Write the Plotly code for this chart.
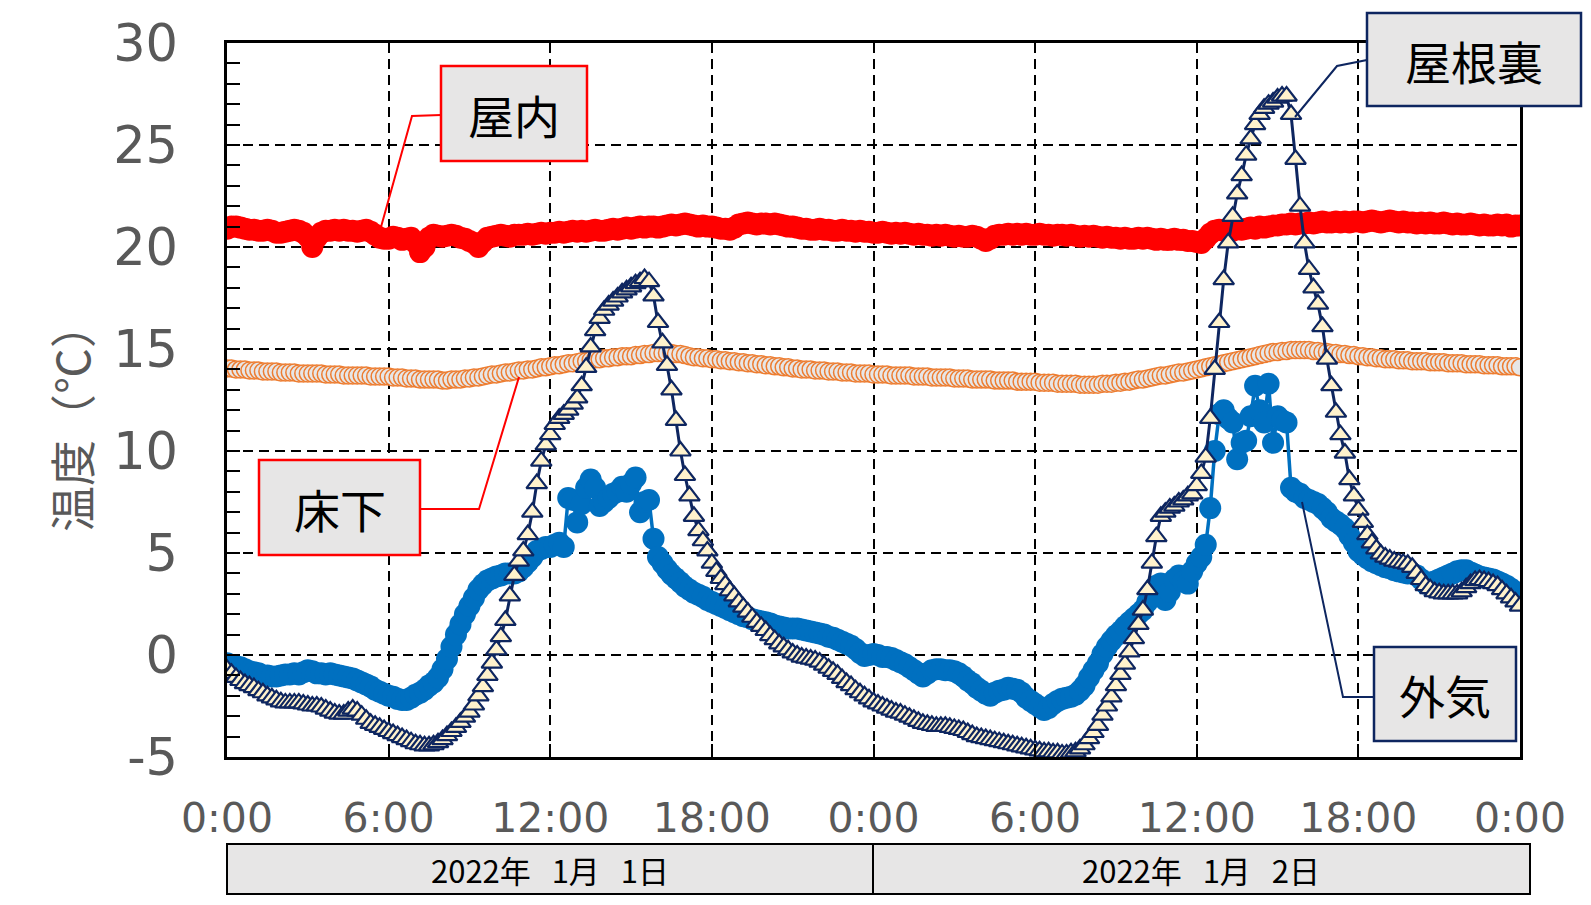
import plotly.graph_objs as go

# 10-minute readings, 2022-01-01 0:00 to 2022-01-03 0:00 (hours on the x axis)
hours = [m / 60 for m in range(0, 48 * 60 + 1, 10)]

indoor = [
    20.9, 21.0, 21.0, 20.95, 20.9, 20.85,
    20.85, 20.8, 20.8, 20.85, 20.8, 20.7,
    20.7, 20.75, 20.8, 20.85, 20.8, 20.7,
    20.5, 20.0, 20.45, 20.7, 20.8, 20.8,
    20.85, 20.8, 20.85, 20.8, 20.8, 20.75,
    20.8, 20.85, 20.75, 20.6, 20.45, 20.4,
    20.4, 20.5, 20.45, 20.35, 20.4, 20.45,
    20.2, 19.75, 20.0, 20.45, 20.6, 20.55,
    20.5, 20.55, 20.6, 20.55, 20.45, 20.4,
    20.3, 20.2, 20.0, 20.25, 20.45, 20.5,
    20.55, 20.6, 20.55, 20.5, 20.6, 20.6,
    20.6, 20.65, 20.6, 20.65, 20.7, 20.65,
    20.7, 20.7, 20.75, 20.7, 20.75, 20.8,
    20.75, 20.8, 20.75, 20.8, 20.85, 20.8,
    20.8, 20.85, 20.9, 20.85, 20.9, 20.95,
    20.9, 20.95, 21.0, 20.95, 21.0, 21.0,
    20.95, 21.0, 21.05, 21.1, 21.05, 21.1,
    21.15, 21.1, 21.05, 21.0, 21.05, 21.0,
    21.0, 20.95, 20.9, 20.9, 20.85, 20.95,
    21.1, 21.15, 21.2, 21.15, 21.1, 21.15,
    21.15, 21.1, 21.15, 21.1, 21.05, 21.0,
    21.0, 20.95, 20.9, 20.9, 20.85, 20.85,
    20.9, 20.85, 20.85, 20.8, 20.8, 20.85,
    20.8, 20.8, 20.75, 20.8, 20.75, 20.75,
    20.7, 20.7, 20.75, 20.7, 20.65, 20.7,
    20.65, 20.7, 20.65, 20.6, 20.65, 20.6,
    20.6, 20.55, 20.6, 20.55, 20.6, 20.55,
    20.5, 20.55, 20.5, 20.5, 20.55, 20.5,
    20.4, 20.3, 20.4, 20.55, 20.6, 20.6,
    20.65, 20.6, 20.65, 20.6, 20.65, 20.6,
    20.6, 20.65, 20.6, 20.6, 20.55, 20.6,
    20.6, 20.55, 20.6, 20.55, 20.5, 20.55,
    20.5, 20.55, 20.5, 20.45, 20.5, 20.45,
    20.45, 20.4, 20.45, 20.4, 20.4, 20.45,
    20.4, 20.45, 20.4, 20.35, 20.4, 20.35,
    20.35, 20.4, 20.35, 20.35, 20.3, 20.3,
    20.25, 20.2, 20.4, 20.65, 20.8, 20.85,
    20.8, 20.85, 20.8, 20.9, 20.85, 20.9,
    20.95, 20.9, 21.0, 20.95, 21.0, 21.05,
    21.05, 21.1, 21.1, 21.15, 21.1, 21.15,
    21.15, 21.2, 21.15, 21.2, 21.25, 21.2,
    21.2, 21.25, 21.2, 21.25, 21.2, 21.25,
    21.25, 21.2, 21.25, 21.3, 21.25, 21.2,
    21.25, 21.3, 21.25, 21.2, 21.25, 21.2,
    21.2, 21.15, 21.2, 21.15, 21.2, 21.15,
    21.15, 21.2, 21.15, 21.1, 21.15, 21.1,
    21.1, 21.15, 21.1, 21.05, 21.1, 21.05,
    21.05, 21.1, 21.05, 21.1, 21.0, 21.05,
    21.05,
]

underfloor = [
    14.05, 14.05, 14.0, 14.0, 14.0, 13.95,
    13.95, 13.95, 13.9, 13.9, 13.9, 13.9,
    13.85, 13.85, 13.85, 13.85, 13.8, 13.8,
    13.8, 13.8, 13.8, 13.8, 13.75, 13.75,
    13.75, 13.75, 13.7, 13.7, 13.7, 13.7,
    13.7, 13.7, 13.65, 13.65, 13.65, 13.65,
    13.65, 13.6, 13.6, 13.6, 13.55, 13.55,
    13.55, 13.5, 13.5, 13.5, 13.5, 13.5,
    13.45, 13.45, 13.5, 13.5, 13.5, 13.55,
    13.55, 13.6, 13.6, 13.65, 13.7, 13.75,
    13.75, 13.8, 13.85, 13.85, 13.9, 13.95,
    13.95, 14.0, 14.0, 14.05, 14.1, 14.1,
    14.15, 14.2, 14.2, 14.25, 14.3, 14.3,
    14.35, 14.4, 14.4, 14.45, 14.5, 14.5,
    14.55, 14.55, 14.6, 14.6, 14.65, 14.65,
    14.65, 14.7, 14.7, 14.75, 14.75, 14.8,
    14.8, 14.8, 14.8, 14.8, 14.75, 14.75,
    14.7, 14.65, 14.6, 14.6, 14.55, 14.55,
    14.5, 14.5, 14.45, 14.45, 14.4, 14.4,
    14.35, 14.35, 14.3, 14.3, 14.25, 14.25,
    14.2, 14.2, 14.15, 14.15, 14.1, 14.1,
    14.05, 14.05, 14.0, 14.0, 14.0, 13.95,
    13.95, 13.95, 13.9, 13.9, 13.9, 13.85,
    13.85, 13.85, 13.8, 13.8, 13.8, 13.8,
    13.75, 13.75, 13.75, 13.75, 13.7, 13.7,
    13.7, 13.7, 13.7, 13.65, 13.65, 13.65,
    13.65, 13.6, 13.6, 13.6, 13.6, 13.6,
    13.55, 13.55, 13.55, 13.55, 13.5, 13.5,
    13.5, 13.5, 13.5, 13.45, 13.45, 13.45,
    13.45, 13.45, 13.4, 13.4, 13.4, 13.4,
    13.4, 13.35, 13.35, 13.35, 13.35, 13.3,
    13.3, 13.3, 13.3, 13.3, 13.25, 13.25,
    13.25, 13.25, 13.25, 13.3, 13.3, 13.3,
    13.35, 13.35, 13.4, 13.4, 13.45, 13.5,
    13.5, 13.55, 13.6, 13.65, 13.7, 13.7,
    13.75, 13.8, 13.85, 13.85, 13.9, 13.95,
    14.0, 14.05, 14.1, 14.15, 14.2, 14.25,
    14.3, 14.35, 14.4, 14.45, 14.5, 14.55,
    14.6, 14.65, 14.7, 14.75, 14.8, 14.85,
    14.85, 14.9, 14.9, 14.95, 14.95, 14.95,
    14.95, 14.95, 14.9, 14.9, 14.85, 14.85,
    14.8, 14.8, 14.75, 14.75, 14.7, 14.7,
    14.65, 14.65, 14.6, 14.6, 14.55, 14.55,
    14.5, 14.5, 14.5, 14.45, 14.45, 14.45,
    14.4, 14.4, 14.4, 14.4, 14.35, 14.35,
    14.35, 14.35, 14.3, 14.3, 14.3, 14.3,
    14.25, 14.25, 14.25, 14.25, 14.2, 14.2,
    14.2, 14.2, 14.15, 14.15, 14.15, 14.15,
    14.1,
]

outdoor = [
    -0.4, -0.5, -0.55, -0.6, -0.7, -0.8,
    -0.85, -0.9, -1.0, -1.0, -1.05, -1.05,
    -1.0, -0.95, -0.95, -0.9, -0.95, -0.85,
    -0.75, -0.8, -0.9, -0.9, -0.95, -0.9,
    -0.95, -1.0, -1.05, -1.1, -1.15, -1.25,
    -1.35, -1.45, -1.55, -1.7, -1.8, -1.9,
    -2.0, -2.05, -2.15, -2.2, -2.2, -2.1,
    -1.95, -1.85, -1.7, -1.5, -1.35, -1.1,
    -0.7, -0.2, 0.4, 1.0, 1.5, 2.0,
    2.4, 2.8, 3.2, 3.45, 3.65, 3.75,
    3.85, 3.9, 4.0, 4.0, 4.0, 4.1,
    4.3, 4.55, 4.8, 5.1, 5.2, 5.3,
    5.3, 5.4, 5.5, 5.3, 7.7, 7.6,
    6.5, 7.4, 8.2, 8.6, 8.2, 7.3,
    7.5, 7.7, 7.9, 8.0, 8.25, 8.0,
    8.4, 8.7, 7.0, 7.5, 7.6, 5.7,
    4.8, 4.5, 4.2, 3.95, 3.75, 3.55,
    3.35, 3.2, 3.05, 2.95, 2.85, 2.7,
    2.6, 2.5, 2.4, 2.3, 2.2, 2.1,
    2.0, 1.9, 1.85, 1.75, 1.7, 1.65,
    1.6, 1.55, 1.45, 1.4, 1.35, 1.3,
    1.3, 1.3, 1.25, 1.2, 1.15, 1.1,
    1.05, 1.0, 0.9, 0.85, 0.75, 0.65,
    0.55, 0.45, 0.3, 0.1, -0.05, 0.0,
    0.05, 0.0, -0.1, -0.1, -0.15, -0.25,
    -0.35, -0.45, -0.6, -0.75, -0.9, -1.05,
    -0.9, -0.75, -0.7, -0.7, -0.75, -0.75,
    -0.8, -0.9, -1.05, -1.25, -1.4, -1.6,
    -1.75, -1.9, -2.0, -1.85, -1.75, -1.7,
    -1.6, -1.65, -1.7, -1.85, -2.1, -2.25,
    -2.4, -2.55, -2.7, -2.6, -2.4, -2.25,
    -2.15, -2.1, -2.05, -1.95, -1.75, -1.5,
    -1.1, -0.75, -0.4, 0.05, 0.4, 0.7,
    0.95, 1.15, 1.4, 1.6, 1.8, 2.0,
    2.2, 2.6, 2.9, 3.4, 3.5, 2.7,
    3.1, 3.7, 3.9, 3.6, 3.5, 4.1,
    4.5, 4.8, 5.4, 7.2, 10.0, 11.8,
    12.0, 11.6, 11.4, 9.6, 10.4, 10.5,
    11.7, 13.2, 12.0, 11.4, 13.3, 10.4,
    11.7, 11.5, 11.4, 8.2, 8.0, 7.9,
    7.7, 7.6, 7.5, 7.4, 7.2, 7.0,
    6.7, 6.55, 6.4, 6.2, 5.85, 5.5,
    5.1, 4.9, 4.75, 4.6, 4.5, 4.4,
    4.3, 4.25, 4.15, 4.1, 4.05, 4.0,
    4.0, 3.9, 3.7, 3.5, 3.55, 3.6,
    3.7, 3.8, 3.9, 4.0, 4.1, 4.15,
    4.15, 4.05, 3.95, 3.85, 3.8, 3.75,
    3.7, 3.6, 3.5, 3.4, 3.25, 3.1,
    3.0,
]

attic = [
    -0.7, -0.9, -1.1, -1.25, -1.4, -1.5,
    -1.6, -1.75, -1.85, -2.0, -2.1, -2.2,
    -2.3, -2.35, -2.35, -2.35, -2.35, -2.4,
    -2.45, -2.5, -2.5, -2.55, -2.65, -2.75,
    -2.85, -2.9, -2.9, -2.75, -2.65, -2.75,
    -2.95, -3.15, -3.35, -3.45, -3.55, -3.65,
    -3.75, -3.85, -3.95, -4.05, -4.15, -4.25,
    -4.35, -4.4, -4.45, -4.45, -4.4, -4.3,
    -4.15, -3.95, -3.75, -3.55, -3.3, -3.05,
    -2.8, -2.45, -2.0, -1.55, -1.0, -0.4,
    0.25, 0.9, 1.7, 2.9, 3.9, 4.6,
    5.1, 5.9, 7.0, 8.4, 9.5, 10.3,
    10.8, 11.3, 11.6, 11.8, 12.0, 12.3,
    12.6, 13.2, 14.1, 15.1, 15.9, 16.5,
    16.9, 17.15, 17.35, 17.55, 17.75, 17.9,
    18.05, 18.2, 18.3, 18.45, 18.3, 17.6,
    16.3, 15.3, 14.2, 13.0, 11.5, 10.0,
    8.8, 7.8, 6.8, 6.1, 5.6, 5.1,
    4.5, 4.1, 3.75, 3.45, 3.15, 2.9,
    2.6, 2.35, 2.1, 1.85, 1.6, 1.4,
    1.2, 0.95, 0.75, 0.55, 0.4, 0.25,
    0.1, 0.0, -0.1, -0.15, -0.2, -0.25,
    -0.35, -0.5, -0.65, -0.8, -0.95, -1.15,
    -1.35, -1.5, -1.7, -1.85, -2.0, -2.15,
    -2.3, -2.4, -2.5, -2.6, -2.7, -2.8,
    -2.85, -2.95, -3.05, -3.15, -3.25, -3.35,
    -3.4, -3.45, -3.5, -3.5, -3.5, -3.55,
    -3.6, -3.65, -3.7, -3.8, -3.9, -4.0,
    -4.05, -4.1, -4.15, -4.2, -4.25, -4.3,
    -4.35, -4.4, -4.45, -4.5, -4.55, -4.6,
    -4.65, -4.7, -4.75, -4.75, -4.8, -4.8,
    -4.85, -4.85, -4.8, -4.75, -4.6, -4.4,
    -4.1, -3.8, -3.45, -2.95, -2.5, -2.05,
    -1.5, -0.95, -0.45, 0.15, 0.8, 1.5,
    2.2, 3.2, 4.5, 5.8, 6.8, 7.0,
    7.2, 7.3, 7.5, 7.6, 7.8, 7.9,
    8.3, 8.9, 9.7, 11.6, 14.0, 16.3,
    18.4, 20.2, 21.5, 22.6, 23.5, 24.5,
    25.3, 26.0, 26.5, 26.8, 27.0, 27.1,
    27.3, 27.4, 27.4, 26.5, 24.3, 22.0,
    20.2, 18.9, 18.0, 17.2, 16.1, 14.5,
    13.2, 11.9, 10.8, 9.9, 8.6, 7.8,
    7.1, 6.5, 5.9, 5.5, 5.2, 4.95,
    4.8, 4.7, 4.6, 4.55, 4.5, 4.45,
    4.3, 4.0, 3.7, 3.4, 3.25, 3.1,
    3.05, 3.0, 3.0, 3.0, 3.0, 3.1,
    3.3, 3.5, 3.65, 3.7, 3.65, 3.6,
    3.5, 3.4, 3.2, 3.0, 2.8, 2.6,
    2.4,
]

x_tickvals = [0, 6, 12, 18, 24, 30, 36, 42, 48]
x_ticktext = ["0:00", "6:00", "12:00", "18:00", "0:00", "6:00", "12:00", "18:00", "0:00"]
y_tickvals = [-5, 0, 5, 10, 15, 20, 25, 30]
y_ticktext = ["-5", "0", "5", "10", "15", "20", "25", "30"]
day_labels = ["2022年\u00a0\u00a0\u00a01月\u00a0\u00a0\u00a01日",
              "2022年\u00a0\u00a0\u00a01月\u00a0\u00a0\u00a02日"]

W, H = 1591, 905
L, R, T, B = 227, 1520, 43, 757   # plot area in pixels

JP = "Noto Sans CJK JP"
NUM = "DejaVu Sans"
GRAY = "#595959"
NAVY = "#0E2660"
BOXFILL = "#E7E6E6"


def px(x):
    return (x - L) / (R - L)


def py(y):
    return (B - y) / (B - T)


def box(x0, y0, x1, y1, color, width=2.5):
    return dict(type="rect", xref="paper", yref="paper",
                x0=px(x0), x1=px(x1), y0=py(y1), y1=py(y0),
                fillcolor=BOXFILL, line=dict(color=color, width=width), layer="above")


def leader(points, color):
    path = "M " + " L ".join("%.5f,%.5f" % (px(a), py(b)) for a, b in points)
    return dict(type="path", xref="paper", yref="paper", path=path,
                line=dict(color=color, width=2), layer="above")


def label(text, x, y, size=46, color="black", angle=0):
    return dict(text=text, xref="paper", yref="paper", x=px(x), y=py(y),
                xanchor="center", yanchor="middle", showarrow=False,
                textangle=angle, font=dict(family=JP, size=size, color=color))


trace_in = go.Scatter(
    x=hours, y=indoor, mode="lines+markers", name="屋内",
    line=dict(color="#FF0000", width=2),
    marker=dict(size=22, color="#FF0000"),
)
trace_floor = go.Scatter(
    x=hours, y=underfloor, mode="lines+markers", name="床下",
    line=dict(color="#ED7D31", width=1.5),
    marker=dict(size=17, color="#E7E6E6", line=dict(color="#ED7D31", width=1.5)),
)
trace_out = go.Scatter(
    x=hours, y=outdoor, mode="lines+markers", name="外気",
    line=dict(color="#0070C0", width=3.5),
    marker=dict(size=22, color="#0070C0"),
)
trace_attic = go.Scatter(
    x=hours, y=attic, mode="lines+markers", name="屋根裏",
    line=dict(color=NAVY, width=3),
    marker=dict(symbol="triangle-up", size=18, color="#FFF2CC",
                line=dict(color=NAVY, width=2.2)),
)

grid = dict(showgrid=True, gridcolor="black", gridwidth=2, griddash="10px,6px",
            showline=True, linecolor="black", linewidth=2.5, mirror=True,
            ticks="inside", ticklen=13, tickwidth=1.5, tickcolor="black",
            zeroline=False)

layout = go.Layout(
    width=W, height=H,
    margin=dict(l=L, r=W - R, t=T, b=H - B),
    paper_bgcolor="white", plot_bgcolor="white",
    showlegend=False,
    xaxis=dict(range=[0, 48], tickmode="array", tickvals=x_tickvals, ticktext=x_ticktext,
               tickfont=dict(family=NUM, size=41, color=GRAY), ticklabelstandoff=23, **grid),
    yaxis=dict(range=[-5, 30], tickmode="array", tickvals=y_tickvals, ticktext=y_ticktext,
               tickfont=dict(family=NUM, size=51, color=GRAY), ticklabelstandoff=36,
               minor=dict(tickmode="linear", tick0=0, dtick=1, ticks="inside", ticklen=13,
                          tickwidth=1.5, tickcolor="black", showgrid=False),
               **grid),
    shapes=[
        leader([(441, 115), (412, 116), (381, 227)], "#FF0000"),
        leader([(420, 509), (479, 509), (519, 377)], "#FF0000"),
        leader([(1367, 60), (1337, 66), (1295, 117)], NAVY),
        leader([(1374, 697), (1343, 697), (1302, 502)], NAVY),
        box(441, 66, 587, 161, "#FF0000"),
        box(259, 460, 420, 555, "#FF0000"),
        box(1367, 13, 1581, 106, NAVY),
        box(1374, 647, 1516, 741, NAVY),
        box(227, 844, 873, 894, "black", 2),
        box(873, 844, 1530, 894, "black", 2),
    ],
    annotations=[
        label("屋内", 514, 114),
        label("床下", 340, 508),
        label("屋根裏", 1474, 60),
        label("外気", 1445, 694),
        label(day_labels[0], 550, 870, size=31),
        label(day_labels[1], 1201, 870, size=31),
        label("温度（℃）", 70, 417, size=46, color=GRAY, angle=-90),
    ],
)

fig = go.Figure(data=[trace_in, trace_floor, trace_out, trace_attic], layout=layout)
fig.write_html("out.html", config={"displayModeBar": False},
               post_script="document.body.style.margin='0';")
